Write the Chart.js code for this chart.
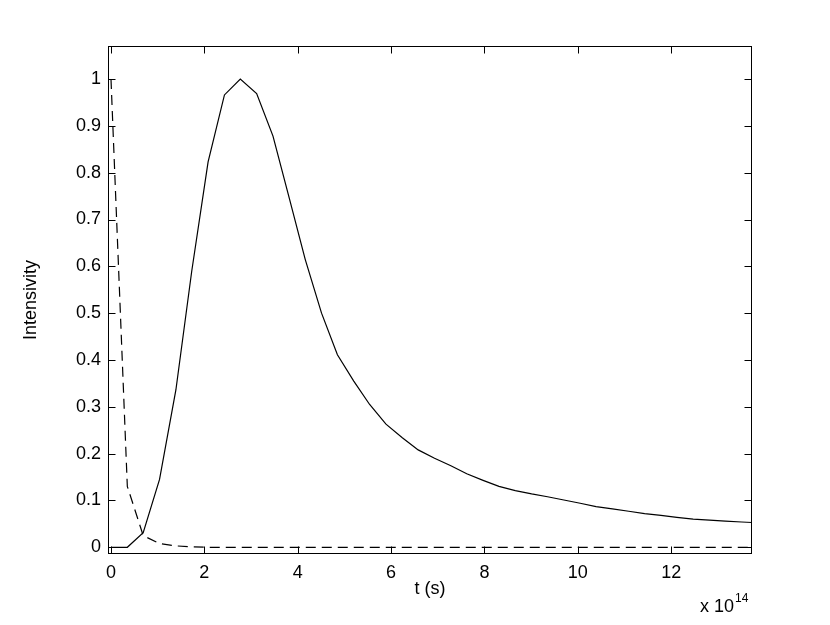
<!DOCTYPE html>
<html><head><meta charset="utf-8">
<script src="https://cdn.jsdelivr.net/npm/chart.js@4/dist/chart.umd.min.js"></script>
<style>html,body{margin:0;padding:0;background:#fff}#wrap{width:830px;height:625px}</style>
</head><body><div id="wrap"><canvas id="c" width="830" height="625"></canvas></div>
<script>
// time values (units of 1e14 s)
const tSolid = [0, 0.35, 0.69, 1.04, 1.39, 1.73, 2.08, 2.43, 2.77, 3.12, 3.47, 3.82, 4.16, 4.51, 4.85, 5.20, 5.54, 5.89, 6.24, 6.58, 6.93, 7.28, 7.62, 7.97, 8.31, 8.66, 9.01, 9.35, 9.70, 10.05, 10.39, 10.74, 11.09, 11.43, 11.78, 12.12, 12.47, 12.82, 13.16, 13.51, 13.73];
const intensitySolid = [0, 0, 0.031, 0.145, 0.336, 0.59, 0.823, 0.966, 1.0, 0.969, 0.878, 0.745, 0.615, 0.500, 0.411, 0.355, 0.305, 0.263, 0.234, 0.208, 0.19, 0.174, 0.157, 0.143, 0.130, 0.121, 0.114, 0.108, 0.101, 0.094, 0.087, 0.082, 0.077, 0.072, 0.068, 0.064, 0.060, 0.058, 0.056, 0.054, 0.053];
const tDashed = [0, 0.35, 0.69, 1.04, 1.39, 1.73, 2.08, 13.73];
const intensityDashed = [1.0, 0.13, 0.025, 0.008, 0.003, 0.001, 0, 0];
const xTickValues = [0, 2, 4, 6, 8, 10, 12];
const yTickValues = [0, 0.1, 0.2, 0.3, 0.4, 0.5, 0.6, 0.7, 0.8, 0.9, 1];
const xLabel = 't (s)';
const yLabel = 'Intensivity';
const xExponent = '14';

const FONT = 'Liberation Sans, Arial, Helvetica, sans-serif';
const toPts = (xs, ys) => xs.map((x, i) => ({x, y: ys[i]}));

const frameTicks = {
  id: 'frameTicks',
  afterDraw(chart) {
    const {ctx, chartArea: a, scales: {x, y}} = chart;
    ctx.save();
    ctx.strokeStyle = '#000';
    ctx.lineWidth = 1;
    const L = Math.round(a.left) + 0.5, R = Math.round(a.right) - 0.5;
    const T = Math.round(a.top) + 0.5, B = Math.round(a.bottom) - 0.5;
    ctx.strokeRect(L, T, R - L, B - T);
    const tl = 7;
    ctx.beginPath();
    xTickValues.forEach(v => {
      const px = Math.round(x.getPixelForValue(v)) + 0.5;
      ctx.moveTo(px, B); ctx.lineTo(px, B - tl);
      ctx.moveTo(px, T); ctx.lineTo(px, T + tl);
    });
    yTickValues.forEach(v => {
      const py = Math.round(y.getPixelForValue(v)) + 0.5;
      ctx.moveTo(L, py); ctx.lineTo(L + tl, py);
      ctx.moveTo(R, py); ctx.lineTo(R - tl, py);
    });
    ctx.stroke();
    // exponent label
    ctx.fillStyle = '#000';
    ctx.textBaseline = 'alphabetic';
    ctx.textAlign = 'left';
    ctx.font = '18px ' + FONT;
    const base = 'x 10';
    const bx = 700, by = 612;
    ctx.fillText(base, bx, by);
    const w = ctx.measureText(base).width;
    ctx.font = '12px ' + FONT;
    ctx.fillText(xExponent, bx + w + 1, by - 10);
    ctx.restore();
  }
};

new Chart(document.getElementById('c'), {
  type: 'scatter',
  data: {
    datasets: [
      {data: toPts(tSolid, intensitySolid), showLine: true, borderColor: '#000', borderWidth: 1.2, pointRadius: 0, tension: 0, fill: false},
      {data: toPts(tDashed, intensityDashed), showLine: true, borderColor: '#000', borderWidth: 1.2, borderDash: [10, 6], pointRadius: 0, tension: 0, fill: false}
    ]
  },
  options: {
    responsive: false,
    animation: false,
    devicePixelRatio: 1,
    layout: {padding: {left: 0, top: 46, right: 78, bottom: 0}},
    plugins: {legend: {display: false}, tooltip: {enabled: false}},
    scales: {
      x: {
        type: 'linear', min: -0.064, max: 13.73,
        afterFit: s => { s.height = 71; },
        afterBuildTicks: s => { s.ticks = xTickValues.map(v => ({value: v})); },
        grid: {display: false, drawTicks: false},
        border: {display: false},
        ticks: {color: '#000', font: {family: FONT, size: 18}, padding: 8, maxRotation: 0, autoSkip: false, callback: v => String(v)},
        title: {display: true, text: xLabel, color: '#000', font: {family: FONT, size: 18}, padding: {top: 0, bottom: 25}}
      },
      y: {
        type: 'linear', min: -0.0143, max: 1.0705,
        afterFit: s => { s.width = 108; },
        afterBuildTicks: s => { s.ticks = yTickValues.map(v => ({value: v})); },
        grid: {display: false, drawTicks: false},
        border: {display: false},
        ticks: {color: '#000', font: {family: FONT, size: 18}, padding: 7, autoSkip: false, callback: v => String(+v.toFixed(1))},
        title: {display: true, text: yLabel, color: '#000', font: {family: FONT, size: 18}, padding: {top: 20, bottom: 0}}
      }
    }
  },
  plugins: [frameTicks]
});
</script></body></html>
